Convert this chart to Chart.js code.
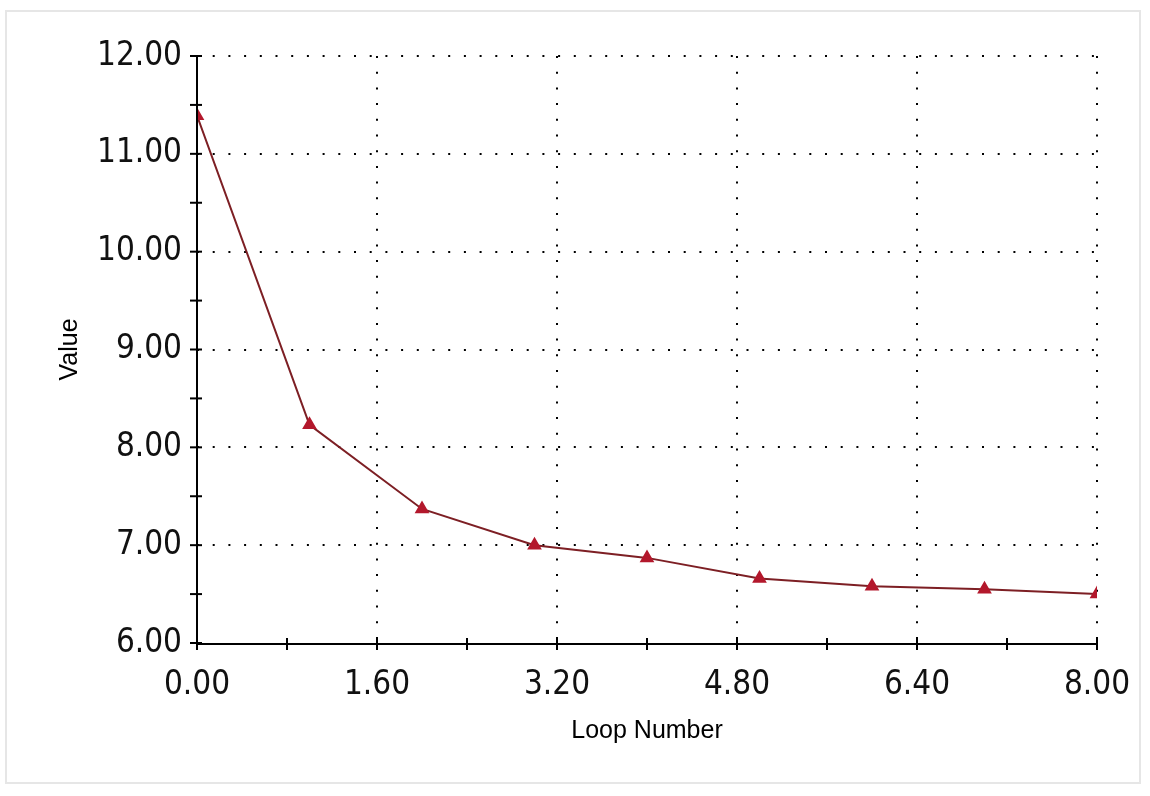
<!DOCTYPE html>
<html><head><meta charset="utf-8">
<script src="https://cdn.jsdelivr.net/npm/chart.js@4.4.1/dist/chart.umd.min.js"></script>
<style>
html,body{margin:0;padding:0;background:#fff;}
#wrap{position:absolute;left:0;top:0;width:1150px;height:796px;}
#frame{position:absolute;left:5px;top:10px;width:1136px;height:774px;border:2px solid #e6e6e6;box-sizing:border-box;}
canvas{position:absolute;left:0;top:0;}
</style></head><body>
<div id="wrap"><div id="frame"></div><canvas id="c" width="1150" height="796"></canvas></div>
<script>
const loopNumbers = [0, 1, 2, 3, 4, 5, 6, 7, 8];
const values = [11.39, 8.23, 7.37, 7.00, 6.87, 6.66, 6.58, 6.55, 6.50];
const xTickValues = [0, 0.8, 1.6, 2.4, 3.2, 4.0, 4.8, 5.6, 6.4, 7.2, 8.0];
const yTickValues = [6, 6.5, 7, 7.5, 8, 8.5, 9, 9.5, 10, 10.5, 11, 11.5, 12];

const TICKFONT = "'Liberation Sans Narrow', 'DejaVu Sans Condensed', Arial, sans-serif";
const FONT = "'Liberation Sans', Arial, sans-serif";
const isMajor = (v, step) => Math.abs(v / step - Math.round(v / step)) < 1e-6;

const crossTicks = {
  id: 'crossTicks',
  afterDatasetsDraw(chart) {
    const ctx = chart.ctx, xs = chart.scales.x, ys = chart.scales.y, a = chart.chartArea;
    ctx.save();
    ctx.strokeStyle = '#000'; ctx.lineWidth = 2;
    ctx.beginPath(); ctx.moveTo(a.left, a.top); ctx.lineTo(a.left, a.bottom + 1); ctx.lineTo(a.right, a.bottom + 1); ctx.stroke();
    xs.ticks.forEach(t => { const p = xs.getPixelForValue(t.value); ctx.beginPath(); ctx.moveTo(p, a.bottom - 5); ctx.lineTo(p, a.bottom + 7); ctx.stroke(); });
    ys.ticks.forEach(t => { const p = ys.getPixelForValue(t.value); ctx.beginPath(); ctx.moveTo(a.left - 7, p); ctx.lineTo(a.left + 5, p); ctx.stroke(); });
    ctx.restore();
  }
};

new Chart(document.getElementById('c'), {
  type: 'line',
  data: {
    datasets: [{
      data: loopNumbers.map((x, i) => ({ x, y: values[i] })),
      borderColor: '#7d1f24',
      borderWidth: 2,
      pointStyle: 'triangle',
      pointRadius: 6.5,
      pointBorderColor: '#b3182c',
      pointBackgroundColor: '#b3182c',
      tension: 0,
      fill: false
    }]
  },
  options: {
    responsive: false,
    animation: false,
    layout: { padding: { left: 51, right: 53, top: 56, bottom: 46 } },
    plugins: { legend: { display: false }, tooltip: { enabled: false } },
    scales: {
      x: {
        type: 'linear', min: 0, max: 8,
        afterBuildTicks: s => { s.ticks = xTickValues.map(v => ({ value: v })); },
        afterFit: s => { s.height = 107; s.paddingRight = 0; s.paddingLeft = 0; },
        border: { display: false, dash: [2, 13.7] },
        grid: {
          color: c => (c.tick && isMajor(c.tick.value, 1.6) && c.tick.value > 0) ? '#000' : 'rgba(0,0,0,0)',
          lineWidth: 2, drawTicks: false
        },
        ticks: {
          color: '#111', font: { family: TICKFONT, size: 33 }, padding: 23, maxRotation: 0, autoSkip: false,
          callback: v => isMajor(v, 1.6) ? v.toFixed(2) : ''
        },
        title: { display: true, text: 'Loop Number', color: '#000', font: { family: FONT, size: 25 } }
      },
      y: {
        type: 'linear', min: 6, max: 12,
        afterBuildTicks: s => { s.ticks = yTickValues.map(v => ({ value: v })); },
        afterFit: s => { s.width = 146; },
        border: { display: false, dash: [2, 13.7] },
        grid: {
          color: c => (c.tick && Number.isInteger(c.tick.value) && c.tick.value > 6) ? '#000' : 'rgba(0,0,0,0)',
          lineWidth: 2, drawTicks: false
        },
        ticks: {
          color: '#111', font: { family: TICKFONT, size: 33 }, padding: 15, autoSkip: false,
          callback: v => Number.isInteger(v) ? v.toFixed(2) : ''
        },
        title: { display: true, text: 'Value', color: '#000', font: { family: FONT, size: 25 } }
      }
    }
  },
  plugins: [crossTicks]
});
</script>
</body></html>
